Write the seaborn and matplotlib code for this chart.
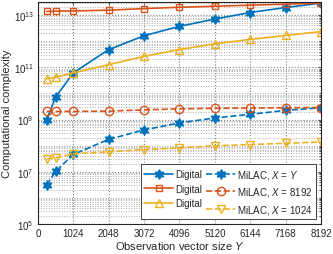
import numpy as np
import pandas as pd
import matplotlib
matplotlib.use('Agg')
import matplotlib.pyplot as plt
import matplotlib.ticker as mticker
import seaborn as sns

sns.set_style('white')
plt.rcParams['font.family'] = ['Liberation Sans', 'DejaVu Sans']
plt.rcParams['mathtext.fontset'] = 'custom'
plt.rcParams['mathtext.rm'] = 'Liberation Sans'
plt.rcParams['mathtext.it'] = 'Liberation Sans:italic'
plt.rcParams['font.size'] = 7

BLUE = '#0072BD'
ORANGE = '#D95319'
YELLOW = '#EDB120'

# observation vector size Y
y_size = [256, 512, 1024, 2048, 3072, 4096, 5120, 6144, 7168, 8192]

# log10 of computational complexity
digital_xy = [9.00, 9.86, 10.79, 11.68, 12.21, 12.57, 12.85, 13.10, 13.29, 13.46]
digital_8192 = [13.14, 13.15, 13.16, 13.19, 13.25, 13.30, 13.34, 13.38, 13.42, 13.46]
digital_1024 = [10.56, 10.62, 10.79, 11.10, 11.42, 11.68, 11.90, 12.07, 12.22, 12.37]
milac_xy = [6.49, 7.02, 7.66, 8.24, 8.60, 8.87, 9.06, 9.20, 9.35, 9.45]
milac_8192 = [9.31, 9.31, 9.31, 9.32, 9.37, 9.41, 9.43, 9.44, 9.45, 9.46]
milac_1024 = [7.50, 7.52, 7.69, 7.76, 7.85, 7.91, 7.99, 8.04, 8.09, 8.14]

df = pd.DataFrame({'Y': y_size})
series = [
    ('digital_xy', digital_xy, BLUE, '-', (6, 1, 0), 'Digital'),
    ('digital_8192', digital_8192, ORANGE, '-', 's', 'Digital'),
    ('digital_1024', digital_1024, YELLOW, '-', '^', 'Digital'),
    ('milac_xy', milac_xy, BLUE, '--', (6, 1, 0), 'MiLAC, $X$ = $Y$'),
    ('milac_8192', milac_8192, ORANGE, '--', 'o', 'MiLAC, $X$ = $\\mathit{8192}$'),
    ('milac_1024', milac_1024, YELLOW, '--', 'v', 'MiLAC, $X$ = $\\mathit{1024}$'),
]
for name, vals, *_ in series:
    df[name] = 10 ** np.array(vals)

fig = plt.figure(figsize=(3.33, 2.55), dpi=100)
ax = fig.add_axes([0.114, 0.118, 0.850, 0.870])

handles = []
for name, vals, color, ls, marker, label in series:
    star = not isinstance(marker, str)
    ms = {'s': 5, 'o': 6, '^': 6, 'v': 6}.get(marker, 7) if not star else 7
    sns.lineplot(data=df, x='Y', y=name, ax=ax, color=color, linestyle=ls,
                 marker=marker, markersize=ms,
                 markerfacecolor=color if star else 'none',
                 markeredgecolor=color, markeredgewidth=1.0,
                 linewidth=1.2, legend=False)
    handles.append(ax.lines[-1])

ax.set_yscale('log')
ax.set_xlim(0, 8192)
ax.set_ylim(1e5, 10 ** 13.5)
ax.set_xticks([0, 1024, 2048, 3072, 4096, 5120, 6144, 7168, 8192])
ax.yaxis.set_major_locator(mticker.FixedLocator([1e5, 1e7, 1e9, 1e11, 1e13]))
ax.yaxis.set_major_formatter(mticker.LogFormatterSciNotation())
ax.yaxis.set_minor_locator(mticker.LogLocator(base=10, subs=np.arange(1, 10), numticks=50))
ax.yaxis.set_minor_formatter(mticker.NullFormatter())

ax.grid(True, which='major', axis='both', color='#808080', linestyle=':', linewidth=0.8)
ax.grid(True, which='minor', axis='y', color='#aaaaaa', linestyle=':', linewidth=0.7)
ax.tick_params(which='both', direction='in', top=True, right=True, length=2.5,
               width=0.5, color='#262626', labelsize=7, pad=3)
ax.tick_params(which='minor', length=1.5)
for s in ax.spines.values():
    s.set_color('#262626')
    s.set_linewidth(0.8)

ax.set_xlabel('Observation vector size $Y$', fontsize=8, labelpad=1)
ax.set_ylabel('Computational complexity', fontsize=8, labelpad=1)

leg = ax.legend(handles, [s[5] for s in series], ncol=2, loc='lower right',
                fontsize=7, frameon=True, fancybox=False, framealpha=1,
                edgecolor='#262626', borderpad=0.35, labelspacing=0.45,
                handlelength=3.0, handletextpad=0.2, columnspacing=0.4,
                borderaxespad=0.5)
leg.get_frame().set_linewidth(0.6)

fig.savefig('out.png', dpi=100)
plt.close()
